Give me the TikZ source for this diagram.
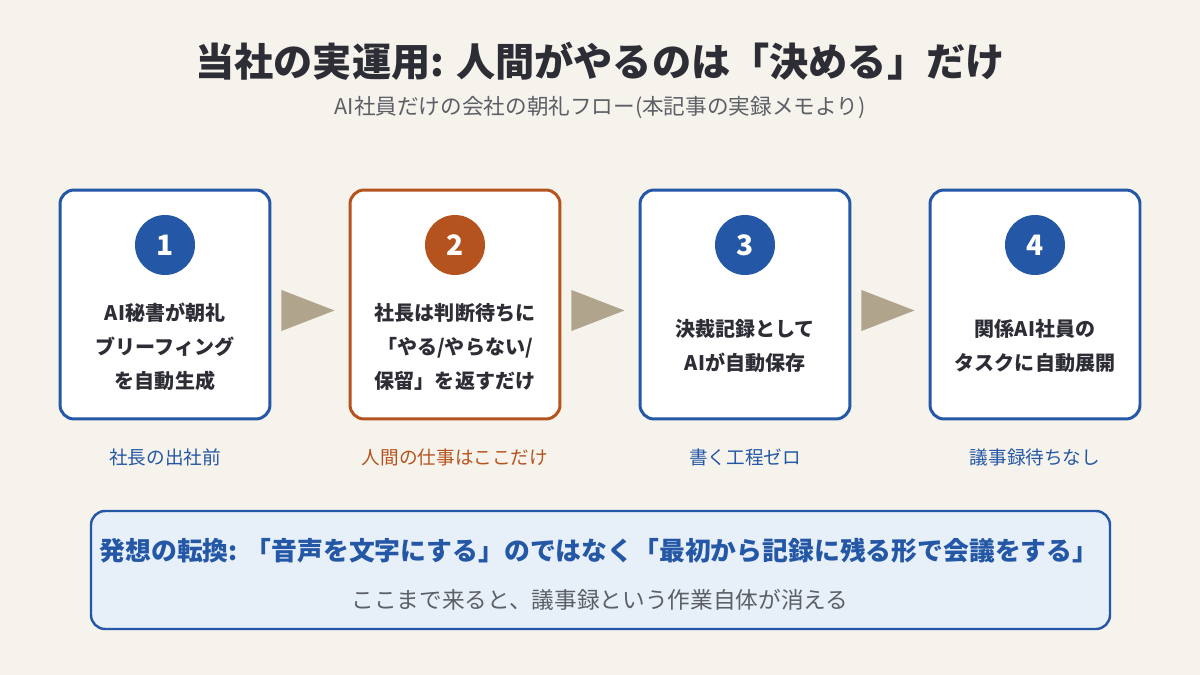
\documentclass[tikz,border=0pt]{standalone}
\usepackage{fontspec}
\setmainfont{Noto Sans CJK JP}
\usepackage{xcolor}
\usetikzlibrary{calc}

\definecolor{bgcol}{HTML}{F6F3EC}
\definecolor{stepblue}{HTML}{2457A5}
\definecolor{steporange}{HTML}{B5531F}
\definecolor{tricol}{HTML}{B0A48D}
\definecolor{notefill}{HTML}{E7EFF9}
\definecolor{darktext}{HTML}{2D2D36}
\definecolor{graytext}{HTML}{5C5F66}

\begin{document}
\begin{tikzpicture}[x=0.02cm,y=-0.02cm,
    stepbox/.style={draw=stepblue,line width=1.7pt,fill=white,rounded corners=8pt,
      minimum width=4.2cm,minimum height=4.58cm},
    numdot/.style={circle,fill=stepblue,minimum size=1.2cm,inner sep=0pt,
      text=white,font=\fontsize{16}{16}\selectfont\bfseries},
    boxtext/.style={align=center,text=darktext,font=\fontsize{11.4}{19.3}\selectfont\bfseries},
    caption/.style={text=stepblue,font=\fontsize{10.6}{12}\selectfont},
    tri/.style={fill=tricol}]
    \fill[bgcol] (0,0) rectangle (1200,675);
    \useasboundingbox (0,0) rectangle (1200,675);

    % title
    \node[text=darktext,font=\fontsize{22.3}{24}\selectfont\bfseries] (title) at (600,61)
      {当社の実運用: 人間がやるのは「決める」だけ};
    \node[text=graytext,font=\fontsize{12.3}{14}\selectfont] (subtitle) at (600,108)
      {AI社員だけの会社の朝礼フロー(本記事の実録メモより)};

    % steps
    \node[stepbox] (s1) at (165,304.5) {};
    \node[stepbox,draw=steporange] (s2) at (455,304.5) {};
    \node[stepbox] (s3) at (745,304.5) {};
    \node[stepbox] (s4) at (1035,304.5) {};

    \node[numdot] (n1) at (165,245) {1};
    \node[numdot,fill=steporange] (n2) at (455,245) {2};
    \node[numdot] (n3) at (745,245) {3};
    \node[numdot] (n4) at (1035,245) {4};

    \node[boxtext] (t1) at (165,347) {AI秘書が朝礼\\ブリーフィング\\を自動生成};
    \node[boxtext] (t2) at (455,347) {社長は判断待ちに\\「やる/やらない/\\保留」を返すだけ};
    \node[boxtext] (t3) at (745,346) {決裁記録として\\AIが自動保存};
    \node[boxtext] (t4) at (1035,346) {関係AI社員の\\タスクに自動展開};

    \node[caption] (c1) at (165,457) {社長の出社前};
    \node[caption,text=steporange] (c2) at (455,457) {人間の仕事はここだけ};
    \node[caption] (c3) at (745,457) {書く工程ゼロ};
    \node[caption] (c4) at (1035,457) {議事録待ちなし};

    % arrows between steps
    \foreach \a in {1,2,3}{
      \fill[tri] ($(s\a.east)+(10,-14.5)$) -- ($(s\a.east)+(63,6)$)
        -- ($(s\a.east)+(10,26.5)$) -- cycle;
    }

    % bottom note
    \draw[stepblue,line width=1.4pt,fill=notefill,rounded corners=8pt]
      (91,511) rectangle (1110,629);
    \node[text=stepblue,font=\fontsize{14.7}{16}\selectfont\bfseries] (note1) at (599,551)
      {発想の転換: 「音声を文字にする」のではなく「最初から記録に残る形で会議をする」};
    \node[text=graytext,font=\fontsize{12.9}{14}\selectfont] (note2) at (600,600)
      {ここまで来ると、議事録という作業自体が消える};
  \end{tikzpicture}
\end{document}
